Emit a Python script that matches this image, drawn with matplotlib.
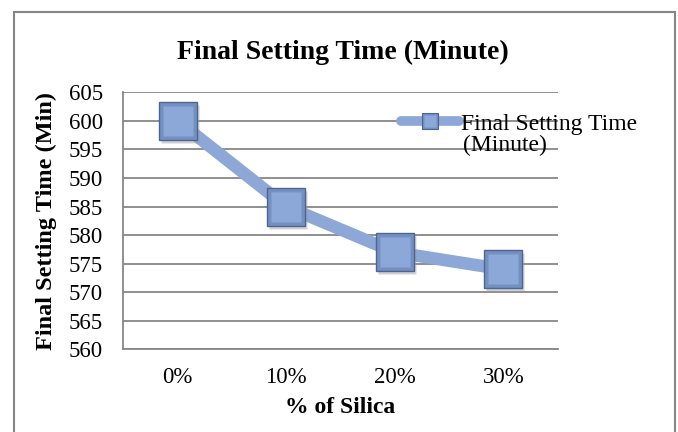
import matplotlib
matplotlib.use("Agg")
import matplotlib.pyplot as plt
from matplotlib.lines import Line2D
from matplotlib.patches import Rectangle
from matplotlib.legend_handler import HandlerTuple
from matplotlib.transforms import offset_copy

# data
categories = ['0%', '10%', '20%', '30%']
setting_time = [600, 585, 577, 574]
y_ticks = [560, 565, 570, 575, 580, 585, 590, 595, 600, 605]
series_name = 'Final Setting Time (Minute)'
chart_title = 'Final Setting Time (Minute)'
x_title = '% of Silica'
y_title = 'Final Setting Time (Min)'

plt.rcParams['font.family'] = ['Liberation Serif', 'DejaVu Serif']

line_col = '#8DA7D6'
face_col = '#7490C1'
inner_col = '#8CA8D8'
edge_col = '#4D6591'
grid_col = '#878787'

fig = plt.figure(figsize=(6.78, 4.32), dpi=100)
ax = fig.add_axes([0.1819, 0.1914, 0.6407, 0.5949])
x = list(range(len(categories)))

ax.plot(x, setting_time, color=line_col, lw=9, solid_joinstyle='round',
        solid_capstyle='butt', zorder=3)
# soft shadow under the markers
shadow = offset_copy(ax.transData, fig=fig, x=2, y=-3, units='dots')
ax.plot(x, setting_time, ls='none', marker='s', ms=27, mfc='#9A9A9A',
        mec='none', alpha=0.45, transform=shadow, zorder=4)
ax.plot(x, setting_time, ls='none', marker='s', ms=27, mfc=face_col,
        mec=edge_col, mew=1.0, zorder=5)
ax.plot(x, setting_time, ls='none', marker='s', ms=21, mfc=inner_col,
        mec='none', zorder=6)

ax.set_xlim(-0.5, 3.5)
ax.set_ylim(560, 605)
ax.set_xticks(x)
ax.set_xticklabels(categories)
ax.set_yticks(y_ticks)
ax.yaxis.grid(True, color=grid_col, lw=1.3)
ax.set_axisbelow(True)
for s in ['top', 'right']:
    ax.spines[s].set_visible(False)
for s in ['left', 'bottom']:
    ax.spines[s].set_color(grid_col)
    ax.spines[s].set_linewidth(1.3)
ax.tick_params(axis='both', length=0, labelsize=16.5)
ax.tick_params(axis='y', pad=14.8)
ax.tick_params(axis='x', pad=13)

ax.set_xlabel(x_title, fontsize=17, fontweight='bold')
ax.xaxis.set_label_coords(0.5, -0.185)
ax.set_ylabel(y_title, fontsize=17.5, fontweight='bold')
ax.yaxis.set_label_coords(-0.153, 0.5)

fig.text(343 / 678, 1 - 59 / 432, chart_title, ha='center', va='baseline',
         fontsize=20, fontweight='bold')

# legend: handle lines up with first line of the two-line label
h_line = Line2D([0], [0], color=line_col, lw=7, solid_capstyle='round')
h_outer = Line2D([0], [0], ls='none', marker='s', ms=12, mfc=face_col,
                 mec=edge_col, mew=0.8)
h_inner = Line2D([0], [0], ls='none', marker='s', ms=9, mfc=inner_col,
                 mec='none')
first, second = series_name.rsplit(' ', 1)
ax.legend(handles=[(h_line, h_outer, h_inner)], labels=[first],
          handler_map={tuple: HandlerTuple(ndivide=1)},
          loc='upper left', bbox_to_anchor=(401 / 678, 1 - 113 / 432),
          bbox_transform=fig.transFigure, frameon=False, fontsize=17,
          handlelength=2.45, handletextpad=0.1, borderpad=0,
          borderaxespad=0)
fig.text(463 / 678, 1 - 151 / 432, second, ha='left', va='baseline',
         fontsize=17)

fig.add_artist(Rectangle((14 / 678, -0.05), (675 - 14) / 678,
                         1 - 12 / 432 + 0.05, transform=fig.transFigure,
                         fill=False, ec='#868686', lw=1.5))

fig.savefig('out.png', dpi=100)
